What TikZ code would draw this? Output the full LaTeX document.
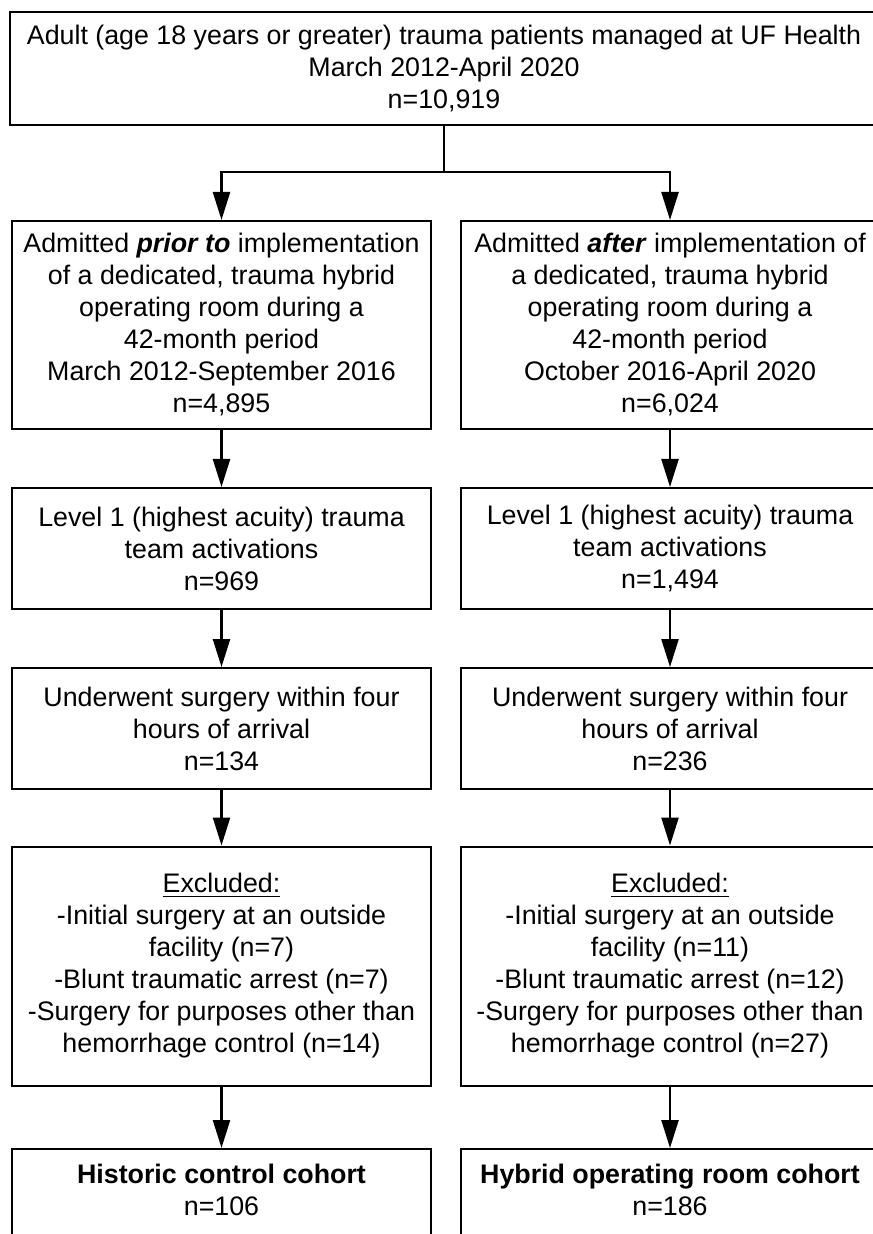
\documentclass[tikz,border=0pt]{standalone}
\usepackage{fontspec}
\setmainfont{Liberation Sans}
\usetikzlibrary{arrows.meta}

\begin{document}
\begin{tikzpicture}[x=0.5pt, y=-0.5pt,
	caixa/.style={draw, rectangle, line width=1pt, inner sep=0pt, minimum width=209.5pt, align=center, font=\fontsize{13.4pt}{16pt}\selectfont},
	seta/.style={-{Triangle[length=14pt, width=8.5pt]}, line width=1.2pt},
	linha/.style={line width=1.2pt}
	]
	\useasboundingbox (0,0) rectangle (872,1234);

	\node[caixa, minimum width=434pt, minimum height=56.5pt] (total) at (444,68.5) {Adult (age 18 years or greater) trauma patients managed at UF Health\\March 2012-April 2020\\n=10,919};
	\coordinate (split) at (444,172);

	\node[caixa, minimum height=104pt] (pre) at (221.5,325) {Admitted \textbf{\textit{prior to}} implementation\\of a dedicated, trauma hybrid\\operating room during a\\42-month period\\March 2012-September 2016\\n=4,895};
	\node[caixa, minimum height=104pt] (pos) at (670,325) {Admitted \textbf{\textit{after}} implementation of\\a dedicated, trauma hybrid\\operating room during a\\42-month period\\October 2016-April 2020\\n=6,024};

	\node[caixa, minimum height=60.5pt] (nivel1a) at (221.5,548.5) {Level 1 (highest acuity) trauma\\team activations\\n=969};
	\node[caixa, minimum height=60.5pt] (nivel1b) at (670,548.5) {Level 1 (highest acuity) trauma\\team activations\\n=1,494};

	\node[caixa, minimum height=60.5pt] (cira) at (221.5,728.5) {Underwent surgery within four\\hours of arrival\\n=134};
	\node[caixa, minimum height=60.5pt] (cirb) at (670,728.5) {Underwent surgery within four\\hours of arrival\\n=236};

	\node[caixa, minimum height=119.5pt] (exca) at (221.5,966) {\underline{Excluded:}\\-Initial surgery at an outside\\facility (n=7)\\-Blunt traumatic arrest (n=7)\\-Surgery for purposes other than\\hemorrhage control (n=14)};
	\node[caixa, minimum height=119.5pt] (excb) at (670,966) {\underline{Excluded:}\\-Initial surgery at an outside\\facility (n=11)\\-Blunt traumatic arrest (n=12)\\-Surgery for purposes other than\\hemorrhage control (n=27)};

	\node[caixa, minimum height=57pt, anchor=north] (hist) at (221.5,1148) {\textbf{Historic control cohort}\\n=106\\~};
	\node[caixa, minimum height=57pt, anchor=north] (hib) at (670,1148) {\textbf{Hybrid operating room cohort}\\n=186\\~};

	\draw[linha] (total.south) -- (split);
	\draw[seta] (split) -| (pre.north);
	\draw[seta] (split) -| (pos.north);

	\draw[seta] (pre) -- (nivel1a);
	\draw[seta] (pos) -- (nivel1b);
	\draw[seta] (nivel1a) -- (cira);
	\draw[seta] (nivel1b) -- (cirb);
	\draw[seta] (cira) -- (exca);
	\draw[seta] (cirb) -- (excb);
	\draw[seta] (exca) -- (hist);
	\draw[seta] (excb) -- (hib);
\end{tikzpicture}
\end{document}
